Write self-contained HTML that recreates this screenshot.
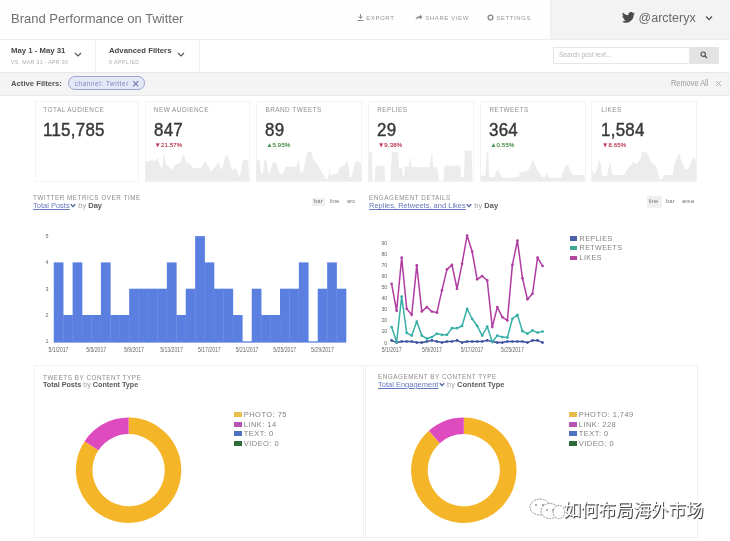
<!DOCTYPE html><html><head><meta charset="utf-8"><title>Brand Performance on Twitter</title><style>
*{margin:0;padding:0;box-sizing:border-box}
html,body{width:730px;height:541px;overflow:hidden;background:#fff}
body{position:relative;font-family:"Liberation Sans",Arial,sans-serif;color:#444}
.a{position:absolute;white-space:nowrap}
.lbl{position:absolute;white-space:nowrap;font-size:6.4px;letter-spacing:.075em;color:#8e8e8e}
.num{position:absolute;white-space:nowrap;font-size:17.8px;color:#383838;transform:scaleX(.95);transform-origin:0 0;letter-spacing:.3px;-webkit-text-stroke:0.42px #383838}
.pct{position:absolute;white-space:nowrap;font-size:6px;letter-spacing:.03em;-webkit-text-stroke:0.15px currentColor}
.card{position:absolute;top:101px;height:81px;border:1px solid #f3f3f3;background:#fff}
.ct{position:absolute;white-space:nowrap;font-size:6.3px;letter-spacing:.085em;color:#8c8c8c}
.cs{position:absolute;white-space:nowrap;font-size:7.5px;color:#a5a5a5}
.cs b{color:#5a5a5a}
.cs u{color:#6479bd;text-decoration:underline}
.tg{position:absolute;white-space:nowrap;font-size:6px;color:#777}
.ax{font-family:"Liberation Sans",Arial,sans-serif;font-size:5px;fill:#666}
.lg{position:absolute;white-space:nowrap;font-size:7.5px;letter-spacing:.06em;color:#838383}
.sw{display:inline-block;width:7.5px;height:5px;margin-right:2.3px;vertical-align:0px}
</style></head><body><div class="a" style="left:0;top:0;width:550px;height:39px;background:#fefefe"></div><div class="a" style="left:550px;top:0;width:180px;height:39px;background:#f3f3f3;border-left:1px solid #ededed"></div><div class="a" style="left:0;top:39px;width:730px;height:1px;background:#ededed"></div><div class="a" style="left:11px;top:10.5px;font-size:13px;color:#707070;">Brand Performance on Twitter</div><div class="a" style="left:357px;top:14px;font-size:6px;color:#999;letter-spacing:.1em"><svg width="7" height="7" viewBox="0 0 7 7" style="vertical-align:-1px"><path d="M3.5 0v4M1.5 2.5l2 2 2-2M0.5 6.5h6" stroke="#888" fill="none" stroke-width="1"/></svg>&nbsp;EXPORT</div><div class="a" style="left:415px;top:14px;font-size:6px;color:#999;letter-spacing:.1em"><svg width="8" height="7" viewBox="0 0 8 7" style="vertical-align:-1px"><path d="M0.5 6C1 3 3 2 5 2V0.5L7.5 3 5 5.5V4C3 4 1.5 4.5 0.5 6z" fill="#888"/></svg>&nbsp;SHARE VIEW</div><div class="a" style="left:487px;top:14px;font-size:6px;color:#999;letter-spacing:.1em"><svg width="7" height="7" viewBox="0 0 7 7" style="vertical-align:-1px"><circle cx="3.5" cy="3.5" r="2.4" stroke="#888" fill="none" stroke-width="1.3"/></svg>&nbsp;SETTINGS</div><svg class="a" style="left:622px;top:12px" width="13" height="11" viewBox="0 0 24 20"><path fill="#4a4a4a" d="M24 2.4c-.9.4-1.8.7-2.8.8 1-.6 1.8-1.6 2.2-2.7-1 .6-2 1-3.1 1.2C19.3.7 18 0 16.6 0c-2.7 0-4.9 2.2-4.9 4.9 0 .4 0 .8.1 1.1C7.7 5.8 4.1 3.9 1.7.9c-.4.7-.7 1.6-.7 2.5 0 1.7.9 3.2 2.2 4.1-.8 0-1.6-.2-2.2-.6v.1c0 2.4 1.7 4.4 3.9 4.8-.4.1-.8.2-1.3.2-.3 0-.6 0-.9-.1.6 2 2.4 3.4 4.6 3.4-1.7 1.3-3.8 2.1-6.1 2.1-.4 0-.8 0-1.2-.1 2.2 1.4 4.8 2.2 7.5 2.2 9.1 0 14-7.5 14-14v-.6c1-.7 1.8-1.6 2.5-2.5z"/></svg><div class="a" style="left:638.5px;top:10.5px;font-size:12.5px;color:#6a6a6a">@arcteryx</div><svg class="a" style="left:705px;top:15px" width="8" height="6" viewBox="0 0 8 6"><path d="M1 1.5l3 3 3-3" stroke="#555" stroke-width="1.3" fill="none"/></svg><div class="a" style="left:95px;top:40px;width:1px;height:32px;background:#eee"></div><div class="a" style="left:199px;top:40px;width:1px;height:32px;background:#eee"></div><div class="a" style="left:11px;top:46.3px;font-size:7.75px;font-weight:bold;color:#474747">May 1 - May 31</div><div class="a" style="left:11px;top:59px;font-size:5.2px;color:#adadad;letter-spacing:.065em">VS. MAR 31 - APR 30</div><svg class="a" style="left:74px;top:52px" width="8" height="5" viewBox="0 0 8 5"><path d="M1 1l3 3 3-3" stroke="#555" stroke-width="1.2" fill="none"/></svg><div class="a" style="left:109px;top:46.3px;font-size:7.75px;font-weight:bold;color:#474747">Advanced Filters</div><div class="a" style="left:109px;top:59px;font-size:5.2px;color:#adadad;letter-spacing:.1em">0 APPLIED</div><svg class="a" style="left:177px;top:52px" width="8" height="5" viewBox="0 0 8 5"><path d="M1 1l3 3 3-3" stroke="#555" stroke-width="1.2" fill="none"/></svg><div class="a" style="left:553px;top:47px;width:137px;height:17px;background:#fff;border:1px solid #e6e6e6"></div><div class="a" style="left:559px;top:51px;font-size:6.5px;color:#b5b5b5">Search post text...</div><div class="a" style="left:690px;top:47px;width:29px;height:17px;background:#e3e3e3"></div><svg class="a" style="left:700px;top:51px" width="8" height="8" viewBox="0 0 8 8"><circle cx="3.2" cy="3.2" r="2.2" stroke="#555" stroke-width="1.2" fill="none"/><path d="M4.8 4.8L7 7" stroke="#555" stroke-width="1.4"/></svg><div class="a" style="left:0;top:72px;width:730px;height:24px;background:#f4f4f4;border-top:1px solid #e8e8e8;border-bottom:1px solid #e8e8e8"></div><div class="a" style="left:11px;top:78.7px;font-size:7.7px;font-weight:bold;color:#555">Active Filters:</div><div class="a" style="left:68px;top:76.3px;width:77px;height:14.2px;border-radius:7.1px;background:#e5e9f7;border:1px solid #9ba6d0"></div><div class="a" style="left:74.8px;top:80.2px;font-size:6.3px;color:#7885bb;letter-spacing:.1em">channel: Twitter</div><svg class="a" style="left:132px;top:80px" width="8" height="8" viewBox="0 0 8 8"><path d="M1.2 1.2L6.3 6.3M6.3 1.2L1.2 6.3" stroke="#6e79ab" stroke-width="1.1"/></svg><div class="a" style="left:671px;top:77.6px;font-size:8.6px;color:#9a9a9a;transform:scaleX(.86);transform-origin:0 0">Remove All</div><svg class="a" style="left:714.5px;top:80px" width="7" height="7" viewBox="0 0 7 7"><path d="M1 1L6 6M6 1L1 6" stroke="#a5a5a5" stroke-width="0.9"/></svg><div class="card" style="left:35px;width:104px"></div><div class="lbl" style="left:43.3px;top:106px">TOTAL AUDIENCE</div><div class="num" style="left:43.0px;top:120.3px">115,785</div><div class="card" style="left:145px;width:105px"></div><div class="lbl" style="left:153.8px;top:106px">NEW AUDIENCE</div><div class="num" style="left:153.5px;top:120.3px">847</div><div class="pct" style="left:154.8px;top:142.3px;color:#b8344f">&#9660;21.57%</div><div class="card" style="left:256px;width:106px"></div><div class="lbl" style="left:265.4px;top:106px">BRAND TWEETS</div><div class="num" style="left:265.1px;top:120.3px">89</div><div class="pct" style="left:266.4px;top:142.3px;color:#3a8a3e">&#9650;5.95%</div><div class="card" style="left:368px;width:106px"></div><div class="lbl" style="left:377.2px;top:106px">REPLIES</div><div class="num" style="left:376.9px;top:120.3px">29</div><div class="pct" style="left:378.2px;top:142.3px;color:#b8344f">&#9660;9.38%</div><div class="card" style="left:480px;width:106px"></div><div class="lbl" style="left:489.4px;top:106px">RETWEETS</div><div class="num" style="left:489.1px;top:120.3px">364</div><div class="pct" style="left:490.4px;top:142.3px;color:#3a8a3e">&#9650;0.55%</div><div class="card" style="left:591px;width:106px"></div><div class="lbl" style="left:601.3px;top:106px">LIKES</div><div class="num" style="left:601.0px;top:120.3px">1,584</div><div class="pct" style="left:602.3px;top:142.3px;color:#b8344f">&#9660;8.65%</div><svg class="a" style="left:0;top:0" width="730" height="541"><g fill="#ececec"><path d="M145.2 181.0 L145.2 162.0 L150.0 160.5 L155.0 160.8 L157.8 158.0 L160.0 166.0 L162.0 168.0 L164.0 152.7 L166.0 164.0 L168.0 166.0 L172.4 170.3 L175.0 164.5 L180.0 163.0 L183.9 153.4 L186.0 162.0 L190.0 164.0 L193.0 168.0 L200.6 168.0 L205.2 161.1 L211.3 171.8 L218.2 162.6 L222.0 170.3 L224.5 159.0 L226.7 154.2 L229.0 159.0 L232.0 170.3 L235.9 168.0 L239.7 177.2 L242.8 160.5 L245.0 159.5 L248.1 160.5 L248.9 181.0 Z"/><path d="M256.5 181.0 L256.5 160.3 L259.6 160.3 L261.0 173.4 L263.0 173.4 L264.2 160.3 L266.5 160.3 L268.0 172.6 L270.0 172.6 L272.6 163.0 L274.5 161.9 L276.5 163.0 L279.5 173.4 L283.0 173.4 L285.7 166.5 L296.4 166.5 L298.7 159.6 L300.5 172.6 L303.0 172.6 L306.0 158.0 L307.5 151.9 L311.6 151.9 L313.0 159.0 L316.2 162.6 L325.4 178.7 L327.0 180.0 L328.5 176.0 L329.2 168.0 L330.5 176.0 L333.0 174.1 L337.7 174.1 L339.2 168.0 L345.3 164.5 L346.9 160.3 L348.5 166.0 L350.0 177.2 L351.5 177.2 L354.5 163.0 L357.5 161.1 L360.7 163.0 L362.2 181.0 Z"/><path d="M368.5 181.0 L368.8 152.0 L371.8 152.0 L372.5 181.0 L375.0 181.0 L375.5 165.7 L384.4 165.7 L385.0 181.0 L390.5 181.0 L391.0 168.0 L392.0 152.0 L398.2 152.0 L399.0 168.0 L402.0 168.0 L403.0 176.0 L404.5 176.0 L404.5 166.5 L408.5 166.5 L410.0 156.5 L411.5 166.5 L418.0 167.2 L429.5 167.2 L432.0 152.0 L433.3 167.2 L437.0 167.2 L439.5 181.0 L443.3 181.0 L444.8 165.7 L460.2 165.7 L461.0 177.0 L464.0 177.0 L464.8 150.8 L471.7 150.8 L472.4 181.0 Z"/><path d="M481.0 181.0 L481.0 175.7 L485.5 175.7 L486.5 152.0 L488.3 152.0 L489.0 177.2 L494.0 177.2 L496.5 172.0 L498.0 168.8 L499.5 173.0 L502.0 177.5 L510.0 178.0 L518.0 177.0 L521.0 172.0 L525.0 171.8 L527.8 170.0 L530.0 168.0 L531.7 162.0 L533.0 160.3 L535.0 165.0 L538.0 171.0 L542.3 177.2 L545.0 177.0 L546.9 171.8 L548.5 177.5 L550.0 178.0 L560.7 178.0 L563.7 170.0 L566.8 164.2 L568.3 166.0 L573.0 175.0 L576.0 175.0 L584.4 175.0 L584.8 181.0 Z"/><path d="M592.3 181.0 L592.3 169.5 L594.6 175.0 L597.0 168.0 L599.0 160.3 L600.5 163.0 L602.3 175.7 L607.0 175.7 L610.0 161.1 L611.5 170.0 L613.0 175.0 L623.7 175.0 L626.8 170.0 L630.0 166.0 L633.0 161.9 L637.0 164.0 L640.0 160.0 L642.0 152.0 L646.6 152.0 L651.2 161.9 L655.0 165.0 L657.3 170.0 L659.6 178.7 L661.5 180.0 L664.2 175.0 L672.7 175.0 L674.2 165.0 L678.8 152.7 L681.0 160.0 L685.0 169.5 L688.0 169.5 L691.0 162.0 L694.1 156.5 L696.4 161.9 L696.4 181.0 Z"/></g></svg><div class="ct" style="left:33px;top:194.4px">TWITTER METRICS OVER TIME</div><div class="cs" style="left:33px;top:201.4px"><u>Total Posts</u><svg width="6" height="5" viewBox="0 0 6 5" style="margin-left:0.5px;vertical-align:0px"><path d="M0.8 1.2L3 3.6 5.2 1.2" stroke="#4f61a0" stroke-width="1.3" fill="none"/></svg> by <b>Day</b></div><div class="a" style="left:312px;top:198px;width:13px;height:8px;background:#efefef"></div><div class="tg" style="left:314px;top:198px">bar</div><div class="tg" style="left:330px;top:198px">line</div><div class="tg" style="left:347px;top:198px">arc</div><svg class="a" style="left:0;top:0" width="730" height="541"><rect x="53.75" y="262.40" width="9.73" height="80.20" fill="#5a7fe0"/><rect x="63.18" y="315.00" width="9.73" height="27.60" fill="#5a7fe0"/><rect x="72.60" y="262.40" width="9.73" height="80.20" fill="#5a7fe0"/><rect x="82.03" y="315.00" width="9.73" height="27.60" fill="#5a7fe0"/><rect x="91.46" y="315.00" width="9.73" height="27.60" fill="#5a7fe0"/><rect x="100.89" y="262.40" width="9.73" height="80.20" fill="#5a7fe0"/><rect x="110.31" y="315.00" width="9.73" height="27.60" fill="#5a7fe0"/><rect x="119.74" y="315.00" width="9.73" height="27.60" fill="#5a7fe0"/><rect x="129.17" y="288.70" width="9.73" height="53.90" fill="#5a7fe0"/><rect x="138.60" y="288.70" width="9.73" height="53.90" fill="#5a7fe0"/><rect x="148.02" y="288.70" width="9.73" height="53.90" fill="#5a7fe0"/><rect x="157.45" y="288.70" width="9.73" height="53.90" fill="#5a7fe0"/><rect x="166.88" y="262.40" width="9.73" height="80.20" fill="#5a7fe0"/><rect x="176.31" y="315.00" width="9.73" height="27.60" fill="#5a7fe0"/><rect x="185.73" y="288.70" width="9.73" height="53.90" fill="#5a7fe0"/><rect x="195.16" y="236.10" width="9.73" height="106.50" fill="#5a7fe0"/><rect x="204.59" y="262.40" width="9.73" height="80.20" fill="#5a7fe0"/><rect x="214.02" y="288.70" width="9.73" height="53.90" fill="#5a7fe0"/><rect x="223.44" y="288.70" width="9.73" height="53.90" fill="#5a7fe0"/><rect x="232.87" y="315.00" width="9.73" height="27.60" fill="#5a7fe0"/><rect x="242.30" y="341.30" width="9.73" height="1.30" fill="#5a7fe0"/><rect x="251.73" y="288.70" width="9.73" height="53.90" fill="#5a7fe0"/><rect x="261.15" y="315.00" width="9.73" height="27.60" fill="#5a7fe0"/><rect x="270.58" y="315.00" width="9.73" height="27.60" fill="#5a7fe0"/><rect x="280.01" y="288.70" width="9.73" height="53.90" fill="#5a7fe0"/><rect x="289.44" y="288.70" width="9.73" height="53.90" fill="#5a7fe0"/><rect x="298.86" y="262.40" width="9.73" height="80.20" fill="#5a7fe0"/><rect x="308.29" y="341.30" width="9.73" height="1.30" fill="#5a7fe0"/><rect x="317.72" y="288.70" width="9.73" height="53.90" fill="#5a7fe0"/><rect x="327.15" y="262.40" width="9.73" height="80.20" fill="#5a7fe0"/><rect x="336.57" y="288.70" width="9.73" height="53.90" fill="#5a7fe0"/><rect x="62.88" y="315.00" width="0.6" height="27.60" fill="#6a8be3"/><rect x="72.30" y="315.00" width="0.6" height="27.60" fill="#6a8be3"/><rect x="81.73" y="315.00" width="0.6" height="27.60" fill="#6a8be3"/><rect x="91.16" y="315.00" width="0.6" height="27.60" fill="#6a8be3"/><rect x="100.59" y="315.00" width="0.6" height="27.60" fill="#6a8be3"/><rect x="110.01" y="315.00" width="0.6" height="27.60" fill="#6a8be3"/><rect x="119.44" y="315.00" width="0.6" height="27.60" fill="#6a8be3"/><rect x="128.87" y="315.00" width="0.6" height="27.60" fill="#6a8be3"/><rect x="138.30" y="288.70" width="0.6" height="53.90" fill="#6a8be3"/><rect x="147.72" y="288.70" width="0.6" height="53.90" fill="#6a8be3"/><rect x="157.15" y="288.70" width="0.6" height="53.90" fill="#6a8be3"/><rect x="166.58" y="288.70" width="0.6" height="53.90" fill="#6a8be3"/><rect x="176.01" y="315.00" width="0.6" height="27.60" fill="#6a8be3"/><rect x="185.43" y="315.00" width="0.6" height="27.60" fill="#6a8be3"/><rect x="194.86" y="288.70" width="0.6" height="53.90" fill="#6a8be3"/><rect x="204.29" y="262.40" width="0.6" height="80.20" fill="#6a8be3"/><rect x="213.72" y="288.70" width="0.6" height="53.90" fill="#6a8be3"/><rect x="223.14" y="288.70" width="0.6" height="53.90" fill="#6a8be3"/><rect x="232.57" y="315.00" width="0.6" height="27.60" fill="#6a8be3"/><rect x="260.85" y="315.00" width="0.6" height="27.60" fill="#6a8be3"/><rect x="270.28" y="315.00" width="0.6" height="27.60" fill="#6a8be3"/><rect x="279.71" y="315.00" width="0.6" height="27.60" fill="#6a8be3"/><rect x="289.14" y="288.70" width="0.6" height="53.90" fill="#6a8be3"/><rect x="298.56" y="288.70" width="0.6" height="53.90" fill="#6a8be3"/><rect x="326.85" y="288.70" width="0.6" height="53.90" fill="#6a8be3"/><rect x="336.27" y="288.70" width="0.6" height="53.90" fill="#6a8be3"/><text class="ax" x="47" y="343.2" text-anchor="middle" style="font-size:5.4px">1</text><text class="ax" x="47" y="316.9" text-anchor="middle" style="font-size:5.4px">2</text><text class="ax" x="47" y="290.6" text-anchor="middle" style="font-size:5.4px">3</text><text class="ax" x="47" y="264.3" text-anchor="middle" style="font-size:5.4px">4</text><text class="ax" x="47" y="238.0" text-anchor="middle" style="font-size:5.4px">5</text><text class="ax" transform="translate(58.5 351.6) scale(.8 1)" text-anchor="middle" style="font-size:6.4px">5/1/2017</text><text class="ax" transform="translate(96.2 351.6) scale(.8 1)" text-anchor="middle" style="font-size:6.4px">5/5/2017</text><text class="ax" transform="translate(133.9 351.6) scale(.8 1)" text-anchor="middle" style="font-size:6.4px">5/9/2017</text><text class="ax" transform="translate(171.6 351.6) scale(.8 1)" text-anchor="middle" style="font-size:6.4px">5/13/2017</text><text class="ax" transform="translate(209.3 351.6) scale(.8 1)" text-anchor="middle" style="font-size:6.4px">5/17/2017</text><text class="ax" transform="translate(247.0 351.6) scale(.8 1)" text-anchor="middle" style="font-size:6.4px">5/21/2017</text><text class="ax" transform="translate(284.7 351.6) scale(.8 1)" text-anchor="middle" style="font-size:6.4px">5/25/2017</text><text class="ax" transform="translate(322.4 351.6) scale(.8 1)" text-anchor="middle" style="font-size:6.4px">5/29/2017</text><path d="M391.60 340.38 L396.63 342.60 L401.67 341.49 L406.70 341.49 L411.73 341.49 L416.77 342.60 L421.80 342.60 L426.83 341.49 L431.86 340.38 L436.90 341.49 L441.93 342.60 L446.96 341.49 L452.00 341.49 L457.03 340.38 L462.06 342.60 L467.10 341.49 L472.13 341.49 L477.16 341.49 L482.19 341.49 L487.23 340.38 L492.26 341.49 L497.29 342.60 L502.33 342.60 L507.36 341.49 L512.39 341.49 L517.43 341.49 L522.46 341.49 L527.49 342.60 L532.52 340.38 L537.56 340.38 L542.59 342.60" stroke="#3a4f9e" stroke-width="1.5" fill="none" stroke-linejoin="round"/><circle cx="391.60" cy="340.38" r="1.35" fill="#3a4f9e"/><circle cx="396.63" cy="342.60" r="1.35" fill="#3a4f9e"/><circle cx="401.67" cy="341.49" r="1.35" fill="#3a4f9e"/><circle cx="406.70" cy="341.49" r="1.35" fill="#3a4f9e"/><circle cx="411.73" cy="341.49" r="1.35" fill="#3a4f9e"/><circle cx="416.77" cy="342.60" r="1.35" fill="#3a4f9e"/><circle cx="421.80" cy="342.60" r="1.35" fill="#3a4f9e"/><circle cx="426.83" cy="341.49" r="1.35" fill="#3a4f9e"/><circle cx="431.86" cy="340.38" r="1.35" fill="#3a4f9e"/><circle cx="436.90" cy="341.49" r="1.35" fill="#3a4f9e"/><circle cx="441.93" cy="342.60" r="1.35" fill="#3a4f9e"/><circle cx="446.96" cy="341.49" r="1.35" fill="#3a4f9e"/><circle cx="452.00" cy="341.49" r="1.35" fill="#3a4f9e"/><circle cx="457.03" cy="340.38" r="1.35" fill="#3a4f9e"/><circle cx="462.06" cy="342.60" r="1.35" fill="#3a4f9e"/><circle cx="467.10" cy="341.49" r="1.35" fill="#3a4f9e"/><circle cx="472.13" cy="341.49" r="1.35" fill="#3a4f9e"/><circle cx="477.16" cy="341.49" r="1.35" fill="#3a4f9e"/><circle cx="482.19" cy="341.49" r="1.35" fill="#3a4f9e"/><circle cx="487.23" cy="340.38" r="1.35" fill="#3a4f9e"/><circle cx="492.26" cy="341.49" r="1.35" fill="#3a4f9e"/><circle cx="497.29" cy="342.60" r="1.35" fill="#3a4f9e"/><circle cx="502.33" cy="342.60" r="1.35" fill="#3a4f9e"/><circle cx="507.36" cy="341.49" r="1.35" fill="#3a4f9e"/><circle cx="512.39" cy="341.49" r="1.35" fill="#3a4f9e"/><circle cx="517.43" cy="341.49" r="1.35" fill="#3a4f9e"/><circle cx="522.46" cy="341.49" r="1.35" fill="#3a4f9e"/><circle cx="527.49" cy="342.60" r="1.35" fill="#3a4f9e"/><circle cx="532.52" cy="340.38" r="1.35" fill="#3a4f9e"/><circle cx="537.56" cy="340.38" r="1.35" fill="#3a4f9e"/><circle cx="542.59" cy="342.60" r="1.35" fill="#3a4f9e"/><path d="M391.60 327.06 L396.63 342.05 L401.67 296.54 L406.70 332.94 L411.73 335.61 L416.77 321.51 L421.80 335.61 L426.83 338.72 L431.86 337.05 L436.90 333.72 L441.93 334.83 L446.96 334.83 L452.00 328.17 L457.03 328.17 L462.06 325.95 L467.10 308.75 L472.13 318.74 L477.16 325.95 L482.19 335.61 L487.23 326.50 L492.26 342.05 L497.29 335.61 L502.33 337.05 L507.36 337.61 L512.39 318.74 L517.43 314.85 L522.46 331.17 L527.49 333.72 L532.52 330.39 L537.56 332.61 L542.59 331.50" stroke="#36b0a6" stroke-width="1.5" fill="none" stroke-linejoin="round"/><circle cx="391.60" cy="327.06" r="1.35" fill="#36b0a6"/><circle cx="396.63" cy="342.05" r="1.35" fill="#36b0a6"/><circle cx="401.67" cy="296.54" r="1.35" fill="#36b0a6"/><circle cx="406.70" cy="332.94" r="1.35" fill="#36b0a6"/><circle cx="411.73" cy="335.61" r="1.35" fill="#36b0a6"/><circle cx="416.77" cy="321.51" r="1.35" fill="#36b0a6"/><circle cx="421.80" cy="335.61" r="1.35" fill="#36b0a6"/><circle cx="426.83" cy="338.72" r="1.35" fill="#36b0a6"/><circle cx="431.86" cy="337.05" r="1.35" fill="#36b0a6"/><circle cx="436.90" cy="333.72" r="1.35" fill="#36b0a6"/><circle cx="441.93" cy="334.83" r="1.35" fill="#36b0a6"/><circle cx="446.96" cy="334.83" r="1.35" fill="#36b0a6"/><circle cx="452.00" cy="328.17" r="1.35" fill="#36b0a6"/><circle cx="457.03" cy="328.17" r="1.35" fill="#36b0a6"/><circle cx="462.06" cy="325.95" r="1.35" fill="#36b0a6"/><circle cx="467.10" cy="308.75" r="1.35" fill="#36b0a6"/><circle cx="472.13" cy="318.74" r="1.35" fill="#36b0a6"/><circle cx="477.16" cy="325.95" r="1.35" fill="#36b0a6"/><circle cx="482.19" cy="335.61" r="1.35" fill="#36b0a6"/><circle cx="487.23" cy="326.50" r="1.35" fill="#36b0a6"/><circle cx="492.26" cy="342.05" r="1.35" fill="#36b0a6"/><circle cx="497.29" cy="335.61" r="1.35" fill="#36b0a6"/><circle cx="502.33" cy="337.05" r="1.35" fill="#36b0a6"/><circle cx="507.36" cy="337.61" r="1.35" fill="#36b0a6"/><circle cx="512.39" cy="318.74" r="1.35" fill="#36b0a6"/><circle cx="517.43" cy="314.85" r="1.35" fill="#36b0a6"/><circle cx="522.46" cy="331.17" r="1.35" fill="#36b0a6"/><circle cx="527.49" cy="333.72" r="1.35" fill="#36b0a6"/><circle cx="532.52" cy="330.39" r="1.35" fill="#36b0a6"/><circle cx="537.56" cy="332.61" r="1.35" fill="#36b0a6"/><circle cx="542.59" cy="331.50" r="1.35" fill="#36b0a6"/><path d="M391.60 283.77 L396.63 310.85 L401.67 257.57 L406.70 308.75 L411.73 314.85 L416.77 265.34 L421.80 311.52 L426.83 307.08 L431.86 311.52 L436.90 312.63 L441.93 290.43 L446.96 269.34 L452.00 264.90 L457.03 288.76 L462.06 263.79 L467.10 235.49 L472.13 251.58 L477.16 279.33 L482.19 276.00 L487.23 280.44 L492.26 327.06 L497.29 307.08 L502.33 317.07 L507.36 320.40 L512.39 264.90 L517.43 240.48 L522.46 278.22 L527.49 299.31 L532.52 293.76 L537.56 257.57 L542.59 266.01" stroke="#b03ca2" stroke-width="1.5" fill="none" stroke-linejoin="round"/><circle cx="391.60" cy="283.77" r="1.35" fill="#b03ca2"/><circle cx="396.63" cy="310.85" r="1.35" fill="#b03ca2"/><circle cx="401.67" cy="257.57" r="1.35" fill="#b03ca2"/><circle cx="406.70" cy="308.75" r="1.35" fill="#b03ca2"/><circle cx="411.73" cy="314.85" r="1.35" fill="#b03ca2"/><circle cx="416.77" cy="265.34" r="1.35" fill="#b03ca2"/><circle cx="421.80" cy="311.52" r="1.35" fill="#b03ca2"/><circle cx="426.83" cy="307.08" r="1.35" fill="#b03ca2"/><circle cx="431.86" cy="311.52" r="1.35" fill="#b03ca2"/><circle cx="436.90" cy="312.63" r="1.35" fill="#b03ca2"/><circle cx="441.93" cy="290.43" r="1.35" fill="#b03ca2"/><circle cx="446.96" cy="269.34" r="1.35" fill="#b03ca2"/><circle cx="452.00" cy="264.90" r="1.35" fill="#b03ca2"/><circle cx="457.03" cy="288.76" r="1.35" fill="#b03ca2"/><circle cx="462.06" cy="263.79" r="1.35" fill="#b03ca2"/><circle cx="467.10" cy="235.49" r="1.35" fill="#b03ca2"/><circle cx="472.13" cy="251.58" r="1.35" fill="#b03ca2"/><circle cx="477.16" cy="279.33" r="1.35" fill="#b03ca2"/><circle cx="482.19" cy="276.00" r="1.35" fill="#b03ca2"/><circle cx="487.23" cy="280.44" r="1.35" fill="#b03ca2"/><circle cx="492.26" cy="327.06" r="1.35" fill="#b03ca2"/><circle cx="497.29" cy="307.08" r="1.35" fill="#b03ca2"/><circle cx="502.33" cy="317.07" r="1.35" fill="#b03ca2"/><circle cx="507.36" cy="320.40" r="1.35" fill="#b03ca2"/><circle cx="512.39" cy="264.90" r="1.35" fill="#b03ca2"/><circle cx="517.43" cy="240.48" r="1.35" fill="#b03ca2"/><circle cx="522.46" cy="278.22" r="1.35" fill="#b03ca2"/><circle cx="527.49" cy="299.31" r="1.35" fill="#b03ca2"/><circle cx="532.52" cy="293.76" r="1.35" fill="#b03ca2"/><circle cx="537.56" cy="257.57" r="1.35" fill="#b03ca2"/><circle cx="542.59" cy="266.01" r="1.35" fill="#b03ca2"/><text class="ax" x="387.3" y="344.5" text-anchor="end" style="font-size:5.3px">0</text><text class="ax" x="387.3" y="333.4" text-anchor="end" style="font-size:5.3px">10</text><text class="ax" x="387.3" y="322.3" text-anchor="end" style="font-size:5.3px">20</text><text class="ax" x="387.3" y="311.2" text-anchor="end" style="font-size:5.3px">30</text><text class="ax" x="387.3" y="300.1" text-anchor="end" style="font-size:5.3px">40</text><text class="ax" x="387.3" y="289.0" text-anchor="end" style="font-size:5.3px">50</text><text class="ax" x="387.3" y="277.9" text-anchor="end" style="font-size:5.3px">60</text><text class="ax" x="387.3" y="266.8" text-anchor="end" style="font-size:5.3px">70</text><text class="ax" x="387.3" y="255.7" text-anchor="end" style="font-size:5.3px">80</text><text class="ax" x="387.3" y="244.6" text-anchor="end" style="font-size:5.3px">90</text><text class="ax" transform="translate(391.6 351.6) scale(.8 1)" text-anchor="middle" style="font-size:6.4px">5/1/2017</text><text class="ax" transform="translate(431.9 351.6) scale(.8 1)" text-anchor="middle" style="font-size:6.4px">5/9/2017</text><text class="ax" transform="translate(472.1 351.6) scale(.8 1)" text-anchor="middle" style="font-size:6.4px">5/17/2017</text><text class="ax" transform="translate(512.4 351.6) scale(.8 1)" text-anchor="middle" style="font-size:6.4px">5/25/2017</text><path d="M128.60 417.50 A52.70 52.70 0 1 1 84.59 441.21 L98.45 450.34 A36.10 36.10 0 1 0 128.60 434.10 Z" fill="#f5b528"/><path d="M84.59 441.21 A52.70 52.70 0 0 1 128.60 417.50 L128.60 434.10 A36.10 36.10 0 0 0 98.45 450.34 Z" fill="#dd4bbe"/><path d="M463.80 417.50 A52.70 52.70 0 1 1 428.87 430.74 L439.87 443.17 A36.10 36.10 0 1 0 463.80 434.10 Z" fill="#f5b528"/><path d="M428.87 430.74 A52.70 52.70 0 0 1 463.80 417.50 L463.80 434.10 A36.10 36.10 0 0 0 439.87 443.17 Z" fill="#dd4bbe"/></svg><div class="lg" style="left:570.3px;top:234.6px;font-size:7.1px"><span class="sw" style="background:#4b62a8;width:7px;height:4.5px"></span>REPLIES</div><div class="lg" style="left:570.3px;top:244.3px;font-size:7.1px"><span class="sw" style="background:#3fa895;width:7px;height:4.5px"></span>RETWEETS</div><div class="lg" style="left:570.3px;top:254.0px;font-size:7.1px"><span class="sw" style="background:#b0479a;width:7px;height:4.5px"></span>LIKES</div><div class="a" style="left:646.5px;top:196px;width:15px;height:12px;background:#f0f0f0"></div><div class="tg" style="left:649px;top:198px">line</div><div class="tg" style="left:666px;top:198px">bar</div><div class="tg" style="left:682px;top:198px">area</div><div class="ct" style="left:369px;top:194.4px">ENGAGEMENT DETAILS</div><div class="cs" style="left:369px;top:201.4px"><u>Replies, Retweets, and Likes</u><svg width="6" height="5" viewBox="0 0 6 5" style="margin-left:0.5px;vertical-align:0px"><path d="M0.8 1.2L3 3.6 5.2 1.2" stroke="#4f61a0" stroke-width="1.3" fill="none"/></svg> by <b>Day</b></div><div class="a" style="left:34px;top:365px;width:330px;height:173px;border:1px solid #f2f2f2"></div><div class="a" style="left:365px;top:365px;width:333px;height:173px;border:1px solid #f2f2f2"></div><div class="ct" style="left:43px;top:374px">TWEETS BY CONTENT TYPE</div><div class="cs" style="left:43px;top:380px;font-size:7.2px"><b>Total Posts</b> by <b>Content Type</b></div><div class="ct" style="left:378px;top:373px">ENGAGEMENT BY CONTENT TYPE</div><div class="cs" style="left:378px;top:380px"><u>Total Engagement</u><svg width="6" height="5" viewBox="0 0 6 5" style="margin-left:0.5px;vertical-align:0px"><path d="M0.8 1.2L3 3.6 5.2 1.2" stroke="#4f61a0" stroke-width="1.3" fill="none"/></svg> by <b>Content Type</b></div><div class="lg" style="left:234px;top:409.6px"><span class="sw" style="background:#e8bf4a"></span>PHOTO: 75</div><div class="lg" style="left:234px;top:419.5px"><span class="sw" style="background:#b755b6"></span>LINK: 14</div><div class="lg" style="left:234px;top:429.4px"><span class="sw" style="background:#4f70c0"></span>TEXT: 0</div><div class="lg" style="left:234px;top:439.3px"><span class="sw" style="background:#2e6b3a"></span>VIDEO: 0</div><div class="lg" style="left:569px;top:409.6px"><span class="sw" style="background:#e8bf4a"></span>PHOTO: 1,749</div><div class="lg" style="left:569px;top:419.5px"><span class="sw" style="background:#b755b6"></span>LINK: 228</div><div class="lg" style="left:569px;top:429.4px"><span class="sw" style="background:#4f70c0"></span>TEXT: 0</div><div class="lg" style="left:569px;top:439.3px"><span class="sw" style="background:#2e6b3a"></span>VIDEO: 0</div><div class="a" style="left:529px;top:497px;width:36px;height:24px"><svg width="36" height="24" viewBox="0 0 36 24"><g fill="#fff" stroke="#8a8a8a" stroke-width="0.9" stroke-dasharray="2 1"><ellipse cx="11" cy="10" rx="10" ry="8"/><ellipse cx="21" cy="14" rx="9" ry="7.5"/><ellipse cx="30" cy="15" rx="6" ry="6.5"/></g><g fill="#999"><circle cx="7" cy="8" r="1.1"/><circle cx="14" cy="8" r="1.1"/><circle cx="18" cy="13" r="1"/><circle cx="24" cy="13" r="1"/></g></svg></div><div class="a" style="left:563.5px;top:495.5px;font-size:17.5px;color:#fff;font-family:'Liberation Sans','Noto Sans CJK SC',sans-serif;text-shadow:1px 1px 0 #4a4a4a,0.5px 0.5px 1px #555">如何布局海外市场</div></body></html>
